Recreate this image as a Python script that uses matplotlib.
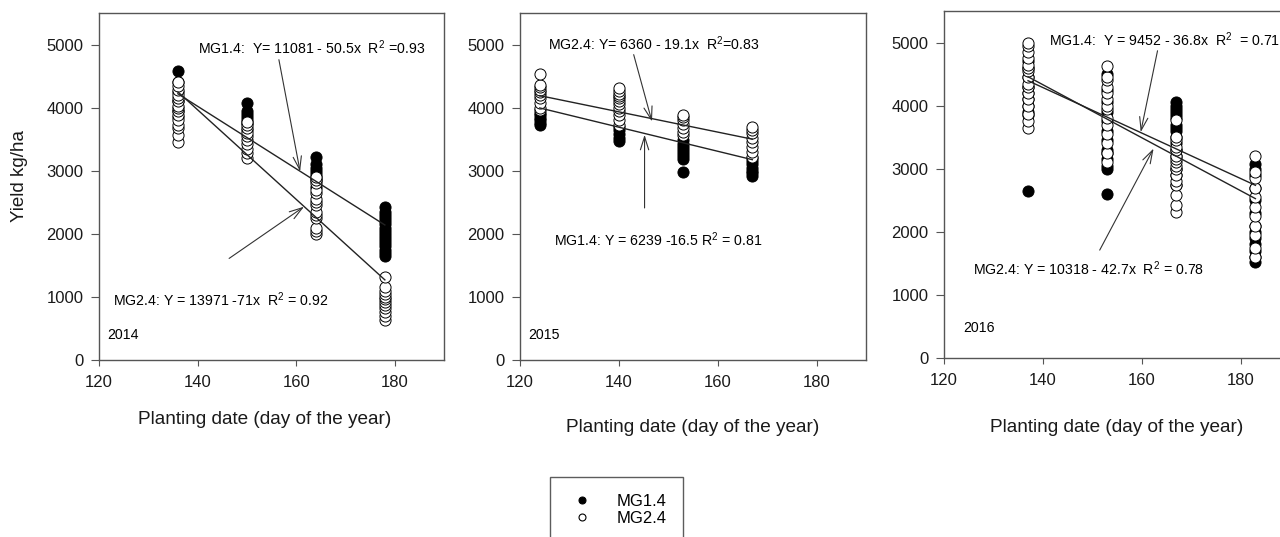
import matplotlib
matplotlib.use('Agg')
import matplotlib.pyplot as plt
from matplotlib.lines import Line2D

plt.rcParams['font.family'] = ['Liberation Sans', 'DejaVu Sans']
plt.rcParams['mathtext.fontset'] = 'custom'
plt.rcParams['mathtext.rm'] = 'Liberation Sans'
plt.rcParams['mathtext.default'] = 'regular'

# planting dates (day of year) per season
x_2014 = [136, 150, 164, 178]
x_2015 = [124, 140, 153, 167]
x_2016 = [137, 153, 167, 183]

# yields (kg/ha), one list per planting date
mg14_2014 = [[4580, 4400, 4250, 4100, 3950, 3850],
             [4070, 3950, 3900, 3850, 3800, 3750, 3650],
             [3210, 3100, 3050, 3000, 2950, 2900, 2850, 2750],
             [1650, 1700, 1750, 1800, 1850, 1900, 1950, 2000, 2050, 2100, 2150, 2200, 2250, 2300, 2350, 2430]]
mg24_2014 = [[3450, 3560, 3680, 3720, 3800, 3880, 3950, 4000, 4030, 4100, 4150, 4200, 4280, 4350, 4400],
             [3200, 3280, 3350, 3420, 3480, 3550, 3600, 3680, 3720, 3780],
             [1990, 2050, 2100, 2250, 2300, 2350, 2450, 2500, 2550, 2650, 2700, 2800, 2850, 2900],
             [640, 700, 760, 820, 870, 920, 960, 1000, 1050, 1100, 1150, 1320]]

mg14_2015 = [[3720, 3760, 3800, 3840, 3880, 3920],
             [3470, 3520, 3580, 3640, 3700],
             [2980, 3180, 3230, 3280, 3330, 3380, 3430, 3480],
             [2920, 2960, 3000, 3050, 3100, 3150, 3200]]
mg24_2015 = [[3960, 4000, 4080, 4150, 4200, 4250, 4280, 4320, 4360, 4530],
             [3720, 3800, 3880, 3950, 4000, 4050, 4100, 4150, 4180, 4220, 4260, 4310],
             [3560, 3620, 3680, 3740, 3800, 3850, 3890],
             [3220, 3300, 3380, 3450, 3520, 3600, 3650, 3690]]

mg14_2016 = [[2650, 3850, 3900, 4000, 4100, 4200, 4300, 4450, 4600, 4700],
             [2600, 3000, 3050, 3150, 3250, 3300, 3450, 3600, 3750, 3900, 4050, 4250, 4500],
             [2750, 2900, 3000, 3200, 3300, 3400, 3500, 3600, 3650, 3700, 3800, 3850, 3900, 3950, 4000, 4050],
             [1520, 1600, 1700, 1800, 1900, 2000, 2100, 2300, 2500, 2700, 2900, 3000, 3080]]
mg24_2016 = [[3650, 3750, 3870, 4000, 4100, 4200, 4300, 4350, 4450, 4550, 4600, 4650, 4750, 4850, 4950, 5000],
             [3100, 3250, 3400, 3550, 3700, 3800, 3950, 4000, 4100, 4200, 4300, 4400, 4450, 4630],
             [2320, 2420, 2580, 2750, 2800, 2900, 3000, 3050, 3100, 3150, 3200, 3300, 3350, 3450, 3500, 3780],
             [1600, 1750, 1950, 2100, 2250, 2400, 2550, 2700, 2850, 2950, 3200]]

# fitted lines as drawn: yield at first and last planting date
fit14_2014 = [4220, 2140]
fit24_2014 = [4250, 1270]
fit_upper_2015 = [4190, 3500]
fit_lower_2015 = [3995, 3175]
fit14_2016 = [4395, 2737]
fit24_2016 = [4458, 2526]

years = ['2014', '2015', '2016']

fig = plt.figure(figsize=(12.8, 5.37), dpi=100)
W, H = 1280, 537


def make_ax(left, right, top, bottom):
    return fig.add_axes([left / W, 1 - bottom / H, (right - left) / W, (bottom - top) / H])


ax1 = make_ax(99, 444, 13, 360)
ax2 = make_ax(520, 866, 13, 360)
ax3 = make_ax(944, 1290, 11, 358)

panels = [
    (ax1, x_2014, mg14_2014, mg24_2014, [fit14_2014, fit24_2014]),
    (ax2, x_2015, mg14_2015, mg24_2015, [fit_upper_2015, fit_lower_2015]),
    (ax3, x_2016, mg14_2016, mg24_2016, [fit14_2016, fit24_2016]),
]

for ax, xs, filled, hollow, fits in panels:
    for xv, ys in zip(xs, filled):
        ax.plot([xv] * len(ys), ys, 'o', ms=8, mfc='black', mec='black', mew=0.7, zorder=2)
    for xv, ys in zip(xs, hollow):
        ax.plot([xv] * len(ys), ys, 'o', ms=8, mfc='white', mec='black', mew=0.7, zorder=3)
    for f in fits:
        ax.plot([xs[0], xs[-1]], f, color='#222222', lw=1.0, zorder=4)
    ax.set_xlim(120, 190)
    ax.set_ylim(0, 5500)
    ax.set_xticks([120, 140, 160, 180])
    ax.set_yticks([0, 1000, 2000, 3000, 4000, 5000])
    ax.tick_params(axis='both', direction='out', labelsize=12, colors='#555555', labelcolor='#1a1a1a')
    ax.tick_params(axis='x', length=4, pad=6.5)
    ax.tick_params(axis='y', length=6, pad=5)
    for sp in ax.spines.values():
        sp.set_color('#555555')
        sp.set_linewidth(1.0)
    ax.set_xlabel('Planting date (day of the year)', fontsize=13.7, color='#1a1a1a')

ax1.xaxis.set_label_coords(0.48, -0.147)
ax2.xaxis.set_label_coords(0.5, -0.170)
ax3.xaxis.set_label_coords(0.5, -0.176)

fig.text(20 / W, 1 - 176 / H, 'Yield kg/ha', rotation=90, ha='center', va='center',
         fontsize=13.5, color='#1a1a1a')

afs = 10.2
arrow = dict(arrowstyle='->,head_length=0.95,head_width=0.3', lw=0.8, color='#333333',
             shrinkA=0, shrinkB=0)

# 2014
ax1.text(140, 4950, 'MG1.4:  Y= 11081 - 50.5x  R$^{2}$ =0.93', fontsize=afs, va='center')
ax1.annotate('', xy=(160.8, 2990), xytext=(156.5, 4760), arrowprops=arrow)
ax1.text(122.8, 950, 'MG2.4: Y = 13971 -71x  R$^{2}$ = 0.92', fontsize=afs, va='center')
ax1.annotate('', xy=(161.6, 2430), xytext=(146.4, 1610), arrowprops=arrow)
ax1.text(121.6, 400, years[0], fontsize=afs, va='center')

# 2015
ax2.text(125.7, 5010, 'MG2.4: Y= 6360 - 19.1x  R$^{2}$=0.83', fontsize=afs, va='center')
ax2.annotate('', xy=(146.7, 3780), xytext=(143.0, 4840), arrowprops=arrow)
ax2.text(126.8, 1905, 'MG1.4: Y = 6239 -16.5 R$^{2}$ = 0.81', fontsize=afs, va='center')
ax2.annotate('', xy=(145.2, 3570), xytext=(145.2, 2410), arrowprops=arrow)
ax2.text(121.7, 400, years[1], fontsize=afs, va='center')

# 2016
ax3.text(141.3, 5050, 'MG1.4:  Y = 9452 - 36.8x  R$^{2}$  = 0.71', fontsize=afs, va='center')
ax3.annotate('', xy=(159.8, 3580), xytext=(163.2, 4870), arrowprops=arrow)
ax3.text(125.9, 1420, 'MG2.4: Y = 10318 - 42.7x  R$^{2}$ = 0.78', fontsize=afs, va='center')
ax3.annotate('', xy=(162.4, 3320), xytext=(151.5, 1710), arrowprops=arrow)
ax3.text(123.9, 475, years[2], fontsize=afs, va='center')

handles = [Line2D([], [], ls='none', marker='o', ms=5, mfc='black', mec='black', mew=0.8),
           Line2D([], [], ls='none', marker='o', ms=5, mfc='white', mec='black', mew=0.8)]
leg = fig.legend(handles, ['MG1.4', 'MG2.4'], loc='upper left',
                 bbox_to_anchor=(550 / W, 1 - 477 / H), fontsize=12, frameon=True,
                 fancybox=False, borderpad=1.0, handlelength=1.8, handletextpad=1.2,
                 labelspacing=0.15, borderaxespad=0)
leg.get_frame().set_edgecolor('#333333')
leg.get_frame().set_linewidth(1.0)

fig.savefig('out.png', dpi=100)
